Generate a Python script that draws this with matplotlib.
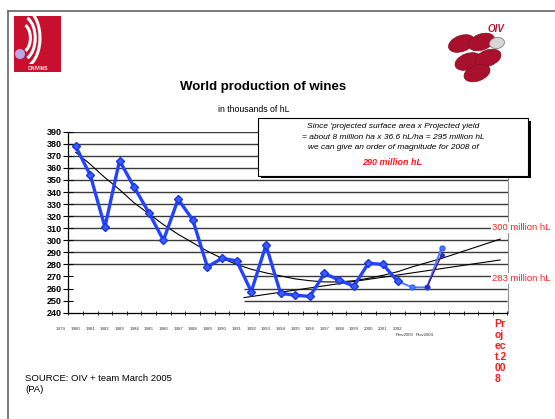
import numpy as np
import matplotlib.pyplot as plt
from matplotlib.patches import Rectangle, Ellipse, Arc, Circle

plt.rcParams['font.family'] = ['Liberation Sans', 'DejaVu Sans']

# Production (thousands of hL -> shown in millions on axis)
annees = list(range(1980, 2003))
production = [378, 354, 311, 366, 344, 323, 300, 334, 317, 278, 285, 283,
              257.5, 296, 256, 254.5, 253.5, 272.5, 267, 262, 281, 280, 266]
annees_prov = [2002, 2003, 2004, 2005]
production_prov = [266, 261, 261, 294]
annees_proj = [2004, 2005]
production_proj = [261, 288]

# Trend curves
annees_tend = list(range(1980, 2010))
tendance_poly = [373, 363, 352, 342, 331, 322, 313, 305, 298, 291, 285, 280,
                 276, 273, 270.5, 268, 266.5, 265.5, 265.5, 266.5, 268.5, 271,
                 274, 278, 281.5, 285, 289, 293, 297, 301]
annees_lin = [1991.5, 2009]
tendance_lin = [252.5, 283.7]

etiquettes_x = [str(a) for a in range(1979, 2003)]
etiquettes_prov = ["Prov2003", "Prov2004"]

W, H = 555, 419
fig = plt.figure(figsize=(W / 100, H / 100), dpi=100)
fig.patch.set_facecolor('white')

ax = fig.add_axes([68.3 / W, 1 - 312.7 / H, (507.5 - 68.3) / W, (312.7 - 131.7) / H])
ax.set_xlim(1979.5, 2009.5)
ax.set_ylim(240, 390)

# Grille
for v in range(280, 391, 10):
    ax.axhline(v, color='#3a3a3a', lw=1.0, zorder=1)
for v in [250, 260, 270]:
    ax.hlines(v, 1991.5, 2009.5, color='#3a3a3a', lw=1.0, zorder=1)

# Courbes de tendance
ax.plot(annees_tend, tendance_poly, color='black', lw=0.8, zorder=2)
ax.plot(annees_lin, tendance_lin, color='black', lw=0.8, zorder=2)

# Séries
ax.plot(annees, production, color='#2243ff', lw=2.4, marker='D', ms=4.5,
        mfc='#3a5cff', mec='#1a35e0', zorder=4)
ax.plot(annees_prov, production_prov, color='#4d7bff', lw=1.4, marker='o', ms=3.5,
        mfc='#4d7bff', mec='#3060ff', zorder=3)
ax.plot(annees_proj, production_proj, color='#4a1580', lw=1.0, marker='o', ms=2.5,
        mfc='#2030c0', mec='#2030c0', zorder=3)

# Axes
ax.set_yticks(range(240, 391, 10))
ax.tick_params(axis='y', direction='inout', length=7, width=0.8, pad=1, labelsize=6.5)
for lab in ax.get_yticklabels():
    lab.set_fontweight('bold')
ax.set_xticks(np.arange(1979.5, 2010, 1))
ax.set_xticklabels([])
ax.tick_params(axis='x', direction='inout', length=2.5, width=0.6)
ax.spines['top'].set_visible(False)
ax.spines['right'].set_color('#909090')
ax.spines['left'].set_linewidth(0.9)
ax.spines['bottom'].set_linewidth(0.9)

trans = ax.get_xaxis_transform()
for i, lab in enumerate(etiquettes_x):
    ax.text(1979 + i, -0.09, lab, transform=trans, ha='center', va='center',
            fontsize=3.2, color='#333333', clip_on=False)
for x, lab in zip([2002.45, 2003.85], etiquettes_prov):
    ax.text(x, -0.125, lab, transform=trans, ha='center', va='center',
            fontsize=3.1, color='#333333', clip_on=False)

# Couche de dessin en pixels
ov = fig.add_axes([0, 0, 1, 1], zorder=5)
ov.set_xlim(0, W)
ov.set_ylim(H, 0)
ov.axis('off')
ov.patch.set_alpha(0)

# Cadre
ov.plot([8, 8], [11, H], color='#707070', lw=1.3)
ov.plot([8, W], [11, 11], color='#707070', lw=1.3)

# Logo ONIVINS
ov.add_patch(Rectangle((14, 16), 47, 56, fc='#c8102e', ec='none'))
clip = Rectangle((14, 16), 47, 48, transform=ov.transData)
for r in [14, 22, 30]:
    a = Arc((22, 38), r * 1.2, r * 2, theta1=-75, theta2=75, color='white', lw=2.2)
    ov.add_patch(a)
    a.set_clip_path(clip)
ov.add_patch(Circle((20, 54), 5, fc='#b8a8e8', ec='none'))
ov.text(37.5, 69, "ONIVINS", color='white', fontsize=3.6, fontweight='bold',
        ha='center', va='center')

# Logo OIV
ov.text(496, 29, "OIV", color='#b01535', fontsize=7, fontweight='bold',
        style='italic', ha='center', va='center')
for cx, cy in [(461.5, 43.5), (481.5, 42), (468, 61.5), (488, 58), (477, 73)]:
    ov.add_patch(Ellipse((cx, cy), 27, 16, angle=-20, fc='#a8102e', ec='#801020', lw=0.5))
ov.add_patch(Ellipse((497, 43), 15, 11, angle=-10, fc='#d8d8d8', ec='#808080', lw=0.6))

# Titres
ov.text(263, 87, "World production of wines", fontsize=9.5, fontweight='bold',
        ha='center', va='center')
ov.text(254, 109, "in thousands of hL", fontsize=6.3, ha='center', va='center')

# Encadré
ov.add_patch(Rectangle((260.5, 120.5), 270, 57.5, fc='black', ec='none'))
ov.add_patch(Rectangle((258, 118), 270, 57.5, fc='white', ec='black', lw=0.8))
ov.text(393, 126.7, "Since 'projected surface area x Projected yield",
        fontsize=6, style='italic', ha='center', va='center')
ov.text(393, 137.3, "= about 8 million ha x 36.6 hL/ha = 295 million hL",
        fontsize=6, style='italic', ha='center', va='center')
ov.text(393, 147.7, "we can give an order of magnitude for 2008 of",
        fontsize=6, style='italic', ha='center', va='center')
ov.text(392, 162.7, "290 million hL", fontsize=6.5, style='italic',
        fontweight='bold', color='#ff1a1a', ha='center', va='center')

# Étiquettes de projection
ov.text(492.5, 227.7, "300 million hL", fontsize=6.8, color='#ff2020',
        ha='left', va='center',
        bbox=dict(fc='white', ec='none', pad=0.8))
ov.text(492.5, 278.3, "283 million hL", fontsize=6.8, color='#ff2020',
        ha='left', va='center',
        bbox=dict(fc='white', ec='none', pad=0.8))
ov.text(494.5, 319, "Pr\noj\nec\nt.2\n00\n8", fontsize=7.5, fontweight='bold',
        color='#ff1a1a', ha='left', va='top', linespacing=1.12)

# Source
ov.text(25, 378.3, "SOURCE: OIV + team March 2005", fontsize=6.8,
        ha='left', va='center')
ov.text(25, 389.5, "(PA)", fontsize=6.8, ha='left', va='center')

fig.savefig("out.png", dpi=100)
